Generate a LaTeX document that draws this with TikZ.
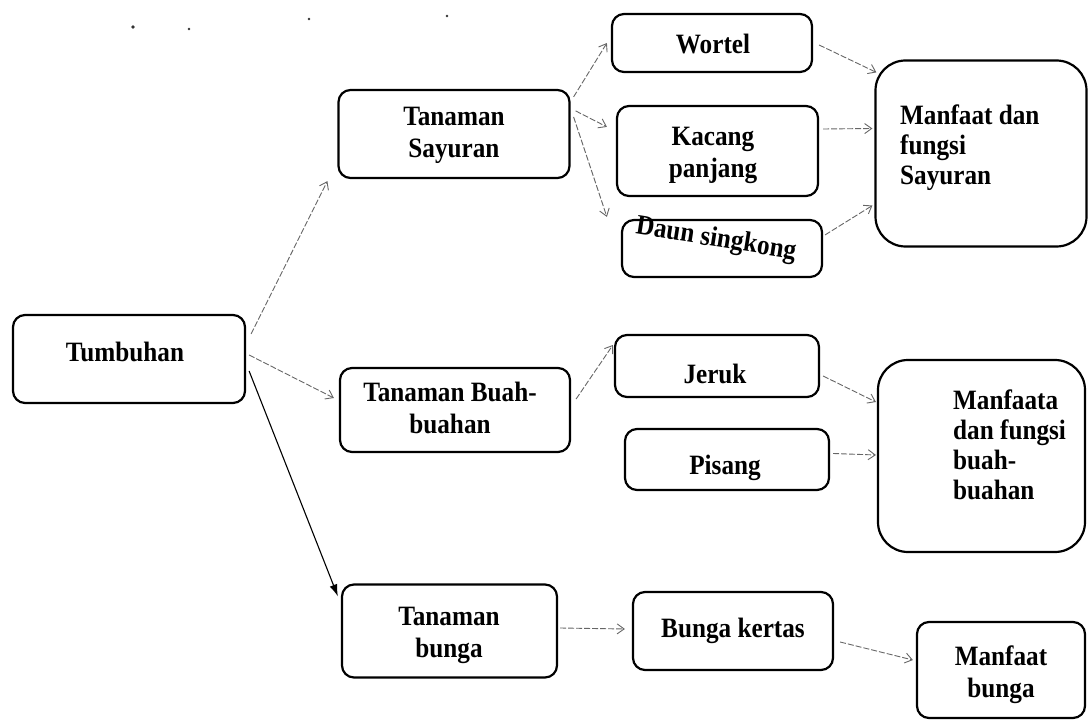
\documentclass[tikz,border=0pt]{standalone}
\usepackage{fontspec}
\setmainfont[FakeStretch=0.9]{Liberation Serif}
\usetikzlibrary{arrows.meta}
\begin{document}
\begin{tikzpicture}[x=1pt,y=-1pt,
  box/.style={draw=black, line width=2.2pt, rounded corners=12pt, inner sep=0pt},
  bigbox/.style={draw=black, line width=2.2pt, rounded corners=30pt, inner sep=0pt},
  txt/.style={font=\bfseries\fontsize{28}{32}\selectfont, align=center, inner sep=0pt},
  ltxt/.style={font=\bfseries\fontsize{28}{30}\selectfont, align=left, inner sep=0pt},
  darr/.style={draw=black!60, line width=0.9pt, dash pattern=on 6pt off 2pt,
    -{Straight Barb[length=7pt,width=10pt]}},
  sarr/.style={draw=black, line width=1.1pt, -{Latex[length=12pt,width=8pt]}},
  speck/.style={fill=black!80, draw=none}
]
\useasboundingbox (0,0) rectangle (1088,722);
% specks
\fill[speck] (133,27) circle (1.8pt);
\fill[speck] (189,29) circle (1.4pt);
\fill[speck] (309,19) circle (1.4pt);
\fill[speck] (447,16) circle (1.4pt);
% boxes
\node[box, minimum width=232pt, minimum height=88pt] (tum) at (129,359) {};
\node[txt] (ttum) at (125,352) {Tumbuhan};
\node[box, minimum width=231pt, minimum height=88pt] (say) at (454,134) {};
\node[txt] (tsay) at (454,135) {Tanaman\\Sayuran};
\node[box, minimum width=230pt, minimum height=84pt] (buah) at (455,410) {};
\node[txt] (tbuah) at (450,408) {Tanaman Buah-\\buahan};
\node[box, minimum width=215pt, minimum height=93pt] (bunga) at (449.5,631) {};
\node[txt] (tbunga) at (449,635) {Tanaman\\bunga};
\node[box, minimum width=200pt, minimum height=58pt] (wortel) at (712,43) {};
\node[txt] (twortel) at (713,44) {Wortel};
\node[box, minimum width=201pt, minimum height=90pt] (kacang) at (717.5,151) {};
\node[txt] (tkacang) at (713,155) {Kacang\\panjang};
\node[box, minimum width=200pt, minimum height=57pt] (daun) at (722,248.5) {};
\node[txt, rotate=-9] (tdaun) at (716,240) {Daun singkong};
\node[bigbox, minimum width=211pt, minimum height=186pt] (msay) at (981,153.5) {};
\node[ltxt, anchor=west] (tmsay) at (900,148) {Manfaat dan\\fungsi\\Sayuran};
\node[box, minimum width=204pt, minimum height=62pt] (jeruk) at (717,366) {};
\node[txt] (tjeruk) at (715,374) {Jeruk};
\node[box, minimum width=204pt, minimum height=61pt] (pisang) at (727,459.5) {};
\node[txt] (tpisang) at (725,468) {Pisang};
\node[bigbox, minimum width=207pt, minimum height=192pt] (mbuah) at (981.5,456) {};
\node[ltxt, anchor=west] (tmbuah) at (953,445) {Manfaata\\dan fungsi\\buah-\\buahan};
\node[box, minimum width=200pt, minimum height=78pt] (kertas) at (733,631) {};
\node[txt] (tkertas) at (733,631) {Bunga kertas};
\node[box, minimum width=168pt, minimum height=96pt] (mbunga) at (1001,670) {};
\node[txt] (tmbunga) at (1001,675) {Manfaat\\bunga};
% connectors
\draw[darr] ([xshift=5pt,yshift=-20pt]tum.north east) -- ([xshift=-10pt,yshift=-2pt]say.south west);
\draw[darr] ([xshift=3pt,yshift=4pt]tum.east) -- ([xshift=-5pt,yshift=12pt]buah.west);
\draw[sarr] ([xshift=3pt,yshift=-12pt]tum.east) -- ([xshift=-3pt,yshift=-13pt]bunga.north west);
\draw[darr] ([xshift=3pt,yshift=-8pt]say.north east) -- ([xshift=-4pt]wortel.west);
\draw[darr] ([xshift=5pt,yshift=-22pt]say.north east) -- ([xshift=-9pt,yshift=-22pt]kacang.north west);
\draw[darr] ([xshift=3pt,yshift=-28pt]say.north east) -- ([xshift=-14pt,yshift=2pt]daun.north west);
\draw[darr] ([xshift=6pt,yshift=-2pt]wortel.east) -- ([xshift=2pt,yshift=-13pt]msay.north west);
\draw[darr] ([xshift=4pt,yshift=22pt]kacang.east) -- ([xshift=-2pt,yshift=25pt]msay.west);
\draw[darr] ([xshift=2pt,yshift=-16pt]daun.north east) -- ([xshift=-2pt,yshift=-52pt]msay.west);
\draw[darr] ([xshift=5pt,yshift=11pt]buah.east) -- ([xshift=-1pt,yshift=21pt]jeruk.west);
\draw[darr] ([xshift=3pt,yshift=-10pt]jeruk.east) -- ([xshift=-1pt,yshift=54pt]mbuah.west);
\draw[darr] ([xshift=3pt,yshift=6pt]pisang.east) -- ([xshift=-1pt,yshift=1pt]mbuah.west);
\draw[darr] ([xshift=2pt,yshift=3pt]bunga.east) -- ([xshift=-7pt,yshift=2pt]kertas.west);
\draw[darr] ([xshift=6pt,yshift=-11pt]kertas.east) -- ([xshift=-3pt,yshift=10pt]mbunga.west);
\end{tikzpicture}
\end{document}
